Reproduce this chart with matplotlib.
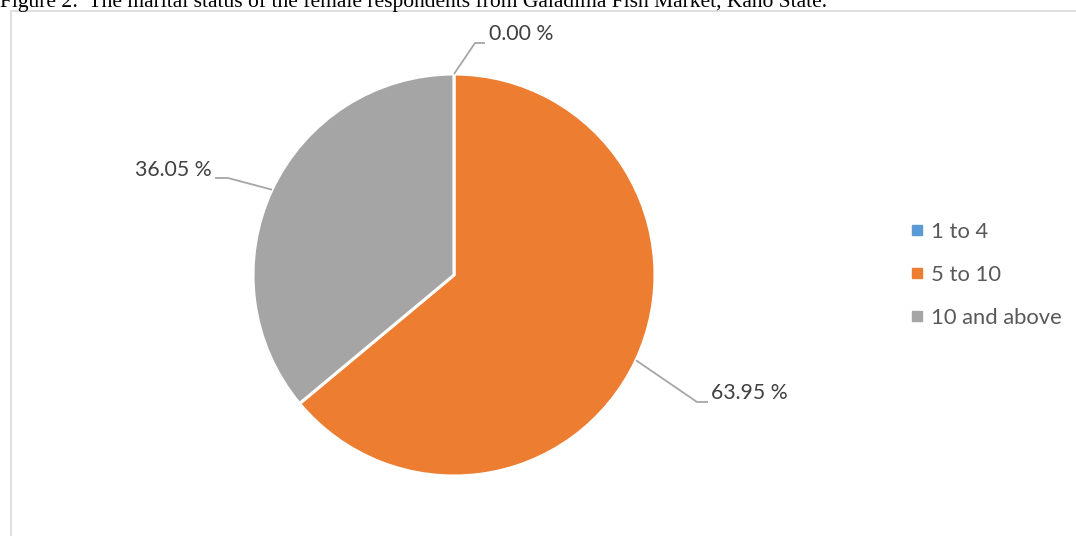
import numpy as np
import matplotlib
matplotlib.use("Agg")
import matplotlib.pyplot as plt
from matplotlib.lines import Line2D
from matplotlib.patches import Rectangle

# ===== data =====
categories = ["1 to 4", "5 to 10", "10 and above"]
shares = [0.00, 63.95, 36.05]
colors = ["#5B9BD5", "#ED7D31", "#A5A5A5"]

title = "Figure 2:  The marital status of the female respondents from Galadima Fish Market, Kano State."

W, H = 1076, 536
fig = plt.figure(figsize=(W / 100, H / 100), dpi=100)
ax = fig.add_axes([0, 0, 1, 1])

# chart frame
ax.add_patch(Rectangle((11, -10), W, H - 11 + 10, fill=False,
                       edgecolor="#D9D9D9", linewidth=1.2))

fig.text(0.0, 1 - 7 / H, title, family="Liberation Serif", fontsize=15.5,
         va="baseline", ha="left", color="black")

cx, cy, r = 454, H - 275, 201
wedges, _ = ax.pie(shares, colors=colors, startangle=90, counterclock=False,
                   center=(cx, cy), radius=r, frame=True,
                   wedgeprops=dict(edgecolor="white", linewidth=2.2))
ax.set_xlim(0, W)
ax.set_ylim(0, H)
ax.set_aspect("equal")
ax.axis("off")

# label placement: (elbow x, elbow y, end x, text x, text y, ha) in pixels from top-left
label_pos = [
    (475, 43, 485, 489, 34, "left"),
    (697, 402, 708, 711, 393, "left"),
    (228, 178, 215, 212, 170, "right"),
]
for w, val, (ex, ey, tx_end, tx, ty, ha) in zip(wedges, shares, label_pos):
    mid = np.deg2rad((w.theta1 + w.theta2) / 2)
    sx, sy = cx + r * np.cos(mid), cy + r * np.sin(mid)
    ax.plot([sx, ex, tx_end], [sy, H - ey, H - ey], color="#A6A6A6", lw=1.3,
            solid_capstyle="butt")
    ax.text(tx, H - ty, f"{val:.2f} %", family="Lato", fontsize=15.3,
            color="#404040", ha=ha, va="center")

handles = [Line2D([], [], marker="s", linestyle="none", markersize=6.5,
                  markerfacecolor=c, markeredgecolor=c) for c in colors]
leg = ax.legend(handles, categories, loc="upper left",
                bbox_to_anchor=(901 / W, 1 - 211 / H), frameon=False,
                prop=dict(family="Lato", size=15.8), labelcolor="#595959",
                handlelength=0.5, handletextpad=0.35, labelspacing=1.05,
                borderpad=0)

fig.savefig("out.png", dpi=100)
